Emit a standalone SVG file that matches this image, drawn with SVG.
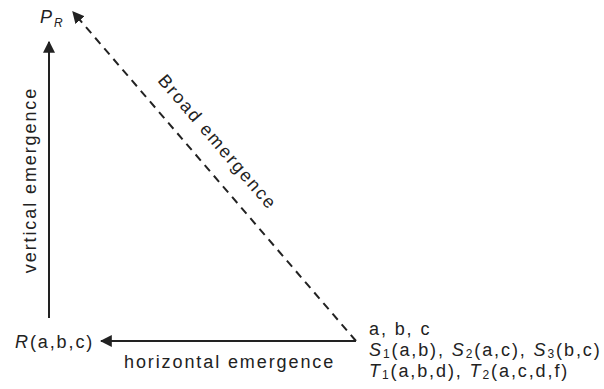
<svg xmlns="http://www.w3.org/2000/svg" width="604" height="389" viewBox="0 0 604 389">
<style>
text{font-family:"Liberation Sans",Arial,sans-serif;font-size:18px;letter-spacing:1.9px;fill:#222}
.ln{stroke:#222;stroke-width:2;fill:none}
.it{font-style:italic}
.sb{font-size:12px}
</style>
<defs>
<marker id="ah" viewBox="0 0 10 10" refX="9" refY="5" markerWidth="6" markerHeight="6" orient="auto" markerUnits="strokeWidth">
<path d="M0,0 L10,5 L0,10 z" fill="#222"/>
</marker>
</defs>
<rect width="604" height="389" fill="#fff"/>
<g id="connectors">
<line class="ln" x1="49" y1="318" x2="49" y2="42" marker-end="url(#ah)"/>
<line class="ln" x1="356" y1="341" x2="101" y2="341" marker-end="url(#ah)"/>
<line class="ln" x1="356" y1="341" x2="73" y2="12" stroke-width="3" stroke-dasharray="8,6" marker-end="url(#ah)"/>
</g>
<g id="node-PR"><text x="40" y="23" class="it" letter-spacing="0">P<tspan class="sb" dy="4">R</tspan></text></g>
<g id="node-R"><text x="15" y="348"><tspan class="it">R</tspan>(a,b,c)</text></g>
<g id="node-abc">
<text x="369" y="335">a, b, c</text>
<text x="369" y="356"><tspan class="it">S</tspan><tspan class="sb" dy="2">1</tspan><tspan dy="-2">(a,b), </tspan><tspan class="it">S</tspan><tspan class="sb" dy="2">2</tspan><tspan dy="-2">(a,c), </tspan><tspan class="it">S</tspan><tspan class="sb" dy="2">3</tspan><tspan dy="-2">(b,c)</tspan></text>
<text x="369" y="377"><tspan class="it">T</tspan><tspan class="sb" dy="2">1</tspan><tspan dy="-2">(a,b,d), </tspan><tspan class="it">T</tspan><tspan class="sb" dy="2">2</tspan><tspan dy="-2">(a,c,d,f)</tspan></text>
</g>
<g id="label-vertical"><text transform="translate(36,180) rotate(-90)" text-anchor="middle">vertical emergence</text></g>
<g id="label-horizontal"><text x="124" y="368">horizontal emergence</text></g>
<g id="label-broad"><text transform="translate(213,146) rotate(49.2)" text-anchor="middle">Broad emergence</text></g>
</svg>
